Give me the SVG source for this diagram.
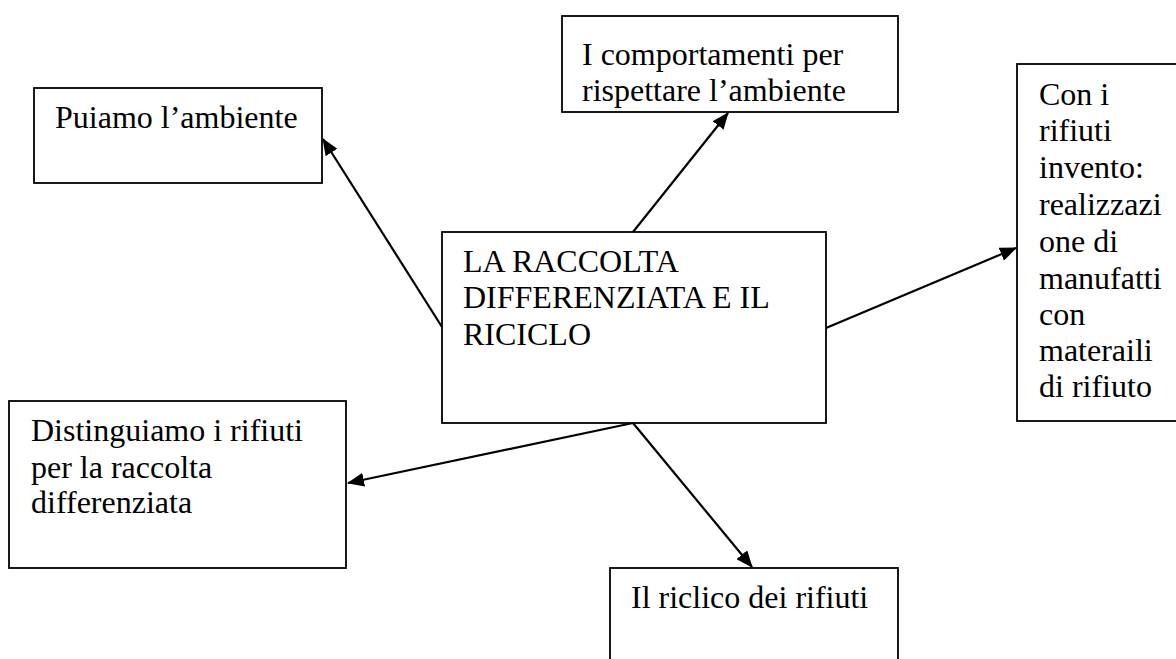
<svg xmlns="http://www.w3.org/2000/svg" width="1176" height="659" viewBox="0 0 1176 659">
<style>
.box{fill:#fff;stroke:#000;stroke-width:1.8}
.t{font-family:"Liberation Serif","Times New Roman",serif;font-size:32px;fill:#000}
.c{stroke:#000;stroke-width:2.2;fill:none;marker-end:url(#ah)}
</style>
<defs>
<marker id="ah" markerWidth="17" markerHeight="14" refX="16" refY="7" orient="auto" markerUnits="userSpaceOnUse">
<path d="M0,0 L17,7 L0,14 Z" fill="#000"/>
</marker>
</defs>
<rect width="1176" height="659" fill="#fff"/>
<g id="connectors">
<line class="c" x1="442" y1="327" x2="323" y2="139"/>
<line class="c" x1="633" y1="232" x2="728" y2="113"/>
<line class="c" x1="826" y1="328" x2="1016" y2="248"/>
<line class="c" x1="633" y1="423" x2="348" y2="483"/>
<line class="c" x1="633" y1="423" x2="752" y2="567"/>
</g>
<g id="center">
<rect class="box" x="442" y="232" width="384" height="191"/>
<text class="t" x="463" y="272">LA RACCOLTA</text>
<text class="t" x="463" y="308">DIFFERENZIATA E IL</text>
<text class="t" x="463" y="345">RICICLO</text>
</g>
<g id="puliamo">
<rect class="box" x="34" y="88" width="288" height="95"/>
<text class="t" x="55" y="128">Puiamo l’ambiente</text>
</g>
<g id="comportamenti">
<rect class="box" x="562" y="16" width="336" height="96"/>
<text class="t" x="582" y="65">I comportamenti per</text>
<text class="t" x="582" y="101">rispettare l’ambiente</text>
</g>
<g id="invento">
<rect class="box" x="1017" y="64" width="170" height="357"/>
<text class="t" x="1039" y="105">Con i</text>
<text class="t" x="1039" y="141">rifiuti</text>
<text class="t" x="1039" y="178">invento:</text>
<text class="t" x="1039" y="215">realizzazi</text>
<text class="t" x="1039" y="252">one di</text>
<text class="t" x="1039" y="289">manufatti</text>
<text class="t" x="1039" y="325">con</text>
<text class="t" x="1039" y="361">materaili</text>
<text class="t" x="1039" y="397">di rifiuto</text>
</g>
<g id="distinguiamo">
<rect class="box" x="9" y="401" width="337" height="167"/>
<text class="t" x="31" y="441">Distinguiamo i rifiuti</text>
<text class="t" x="31" y="478">per la raccolta</text>
<text class="t" x="31" y="513">differenziata</text>
</g>
<g id="riciclo">
<rect class="box" x="610" y="568" width="288" height="110"/>
<text class="t" x="631" y="608">Il riclico dei rifiuti</text>
</g>
</svg>
